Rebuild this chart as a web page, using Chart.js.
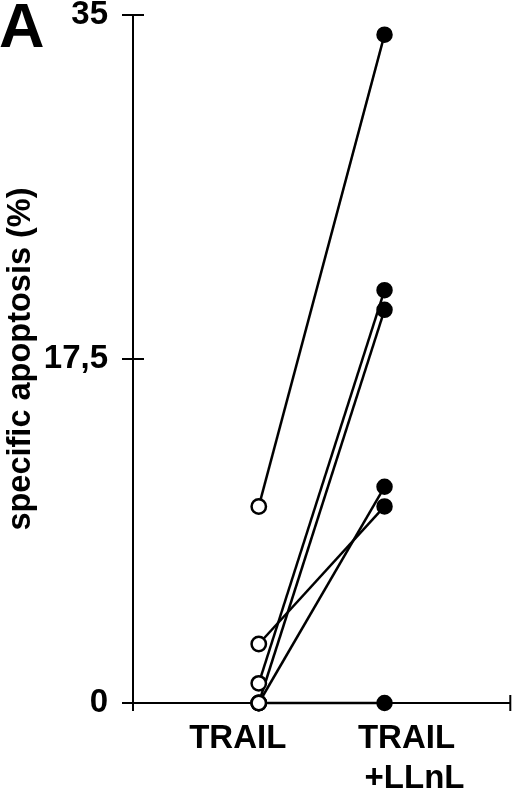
<!DOCTYPE html>
<html>
<head>
<meta charset="utf-8">
<script src="https://cdn.jsdelivr.net/npm/chart.js@4"></script>
<style>
html,body{margin:0;padding:0;background:#fff;}
#wrap{width:520px;height:789px;position:relative;}
</style>
</head>
<body>
<div id="wrap"><canvas id="c"></canvas></div>
<script>
// ---- data ----
const categories = ['TRAIL', ['TRAIL', '+LLnL']];
const trailValues = [10, 3, 1, 0, 0, 0];
const trailLLnLValues = [34, 10, 21, 20, 11, 0];
const yTickValues = [0, 17.5, 35];
const yTickLabels = ['0', '17,5', '35'];
const yTitle = 'specific apoptosis (%)';
const panelLabel = 'A';

const FONT = '"Liberation Sans", Arial, Helvetica, sans-serif';

const datasets = trailValues.map((v, i) => ({
  label: 'patient ' + (i + 1),
  data: [{x: 0, y: v}, {x: 1, y: trailLLnLValues[i]}],
  borderColor: '#000',
  borderWidth: 2.5,
  pointBackgroundColor: ['#fff', '#000'],
  pointBorderColor: '#000',
  pointBorderWidth: 2.5,
  pointRadius: [7.2, 7],
  fill: false,
  tension: 0,
  clip: false
}));

const decor = {
  id: 'decor',
  afterDraw(chart) {
    const ctx = chart.ctx;
    const xs = chart.scales.x, ys = chart.scales.y;
    const x0 = xs.left, yb = ys.bottom;
    ctx.save();
    ctx.strokeStyle = '#000';
    ctx.lineWidth = 2;
    // y ticks crossing the axis (inner half)
    yTickValues.forEach(v => {
      const py = ys.getPixelForValue(v);
      ctx.beginPath(); ctx.moveTo(x0, py); ctx.lineTo(x0 + 11, py); ctx.stroke();
    });
    // x-axis end ticks
    [xs.min, xs.max].forEach(v => {
      const px = xs.getPixelForValue(v);
      ctx.beginPath(); ctx.moveTo(px, yb - (v === xs.min ? 0 : 8)); ctx.lineTo(px, yb + 8); ctx.stroke();
    });
    // category labels
    ctx.fillStyle = '#000';
    ctx.font = 'bold 33px ' + FONT;
    ctx.textAlign = 'center';
    ctx.textBaseline = 'alphabetic';
    const shift = [[-21], [22, 30]];
    categories.forEach((lab, i) => {
      const lines = Array.isArray(lab) ? lab : [lab];
      const cx = xs.getPixelForValue(i);
      lines.forEach((t, j) => {
        ctx.fillText(t, cx + shift[i][j], yb + 45 + j * 40);
      });
    });
    // panel label
    ctx.textAlign = 'left';
    ctx.font = 'bold 63px ' + FONT;
    ctx.fillText(panelLabel, -1, 47);
    ctx.restore();
  }
};

new Chart(document.getElementById('c'), {
  type: 'line',
  data: {datasets},
  plugins: [decor],
  options: {
    responsive: true,
    maintainAspectRatio: false,
    animation: false,
    layout: {padding: {top: 15, right: 5, left: 0, bottom: 0}},
    plugins: {legend: {display: false}, tooltip: {enabled: false}, title: {display: false}},
    scales: {
      x: {
        type: 'linear',
        min: -1, max: 2,
        grid: {display: false},
        border: {display: true, color: '#000', width: 2},
        ticks: {display: false},
        afterFit(s) { s.height = 86; s.paddingLeft = 0; s.paddingRight = 0; }
      },
      y: {
        type: 'linear',
        min: 0, max: 35,
        afterBuildTicks(s) { s.ticks = yTickValues.map(v => ({value: v})); },
        ticks: {
          color: '#000',
          padding: 14,
          font: {family: FONT, size: 33, weight: 'bold'},
          callback: (v) => { const k = yTickValues.indexOf(v); return k >= 0 ? yTickLabels[k] : ''; }
        },
        grid: {drawOnChartArea: false, drawTicks: true, tickLength: 11, color: '#000', lineWidth: 2},
        border: {display: true, color: '#000', width: 2},
        title: {display: true, text: yTitle, color: '#000', font: {family: FONT, size: 32.5, weight: 'bold'}, padding: {top: 2, bottom: 0}},
        afterFit(s) { s.width = 133; s.paddingTop = 0; s.paddingBottom = 0; }
      }
    }
  }
});
</script>
</body>
</html>
